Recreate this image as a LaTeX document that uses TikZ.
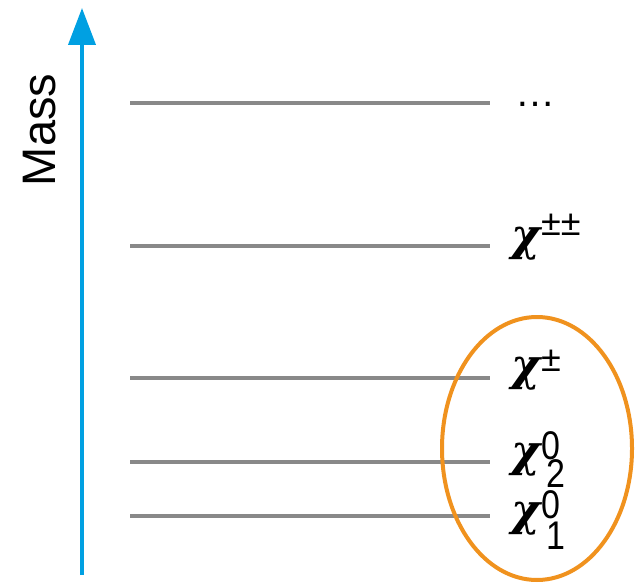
\documentclass[tikz,border=0pt]{standalone}
\usepackage{fontspec}
\setmainfont{Liberation Sans}
\newfontfamily\chifont{DejaVu Serif}
\usetikzlibrary{arrows.meta}
\definecolor{axisblue}{RGB}{0,160,226}
\definecolor{levelgray}{RGB}{137,137,137}
\definecolor{ringorange}{RGB}{240,146,30}
\newcommand\chib{{\fontsize{44}{44}\selectfont\chifont\bfseries\itshape χ}}
\newcommand\supf[2]{\raisebox{#1pt}{\fontsize{36}{36}\selectfont #2}}
\newcommand\digf[2]{\raisebox{#1pt}{\scalebox{0.85}[1]{\fontsize{40}{40}\selectfont #2}}}
\tikzset{
  level/.style={levelgray, line width=4pt},
  lab/.style={anchor=base west, inner sep=0pt, font=\fontsize{46}{46}\selectfont},
}
\begin{document}
\begin{tikzpicture}[x=1pt,y=-1pt]
\useasboundingbox (0,0) rectangle (636,585);
% axis
\coordinate (ab) at (82,575);
\coordinate (at) at (82,8);
\draw[axisblue, line width=4pt, -{Triangle[length=37pt,width=27pt]}] (ab) -- (at);
\node[rotate=90, anchor=base, inner sep=0pt, font=\fontsize{47}{47}\selectfont] (mass) at (55,130) {Mass};
% levels
\foreach \n/\y in {l5/103, l4/246, l3/378, l2/462, l1/516}{
  \coordinate (\n a) at (130,\y);
  \coordinate (\n b) at (490,\y);
  \draw[level] (\n a) -- (\n b);
}
% labels
\node[lab, font=\fontsize{40}{40}\selectfont] (dots) at (515,107) {…};
\node[lab] (cpp) at (511,250) {\chib\kern1pt\supf{15}{±±}};
\node[lab] (cp) at (511,380) {\chib\kern1pt\supf{9}{±}};
\node[lab] (c2) at (511,466) {\chib\kern1pt\rlap{\digf{7}{0}}\kern5pt\digf{-21}{2}};
\node[lab] (c1) at (511,525) {\chib\kern1pt\rlap{\digf{7}{0}}\kern5pt\digf{-24}{1}};
% ellipse
\draw[ringorange, line width=4pt] (537,448.5) ellipse [x radius=95, y radius=131.5];
\end{tikzpicture}
\end{document}
